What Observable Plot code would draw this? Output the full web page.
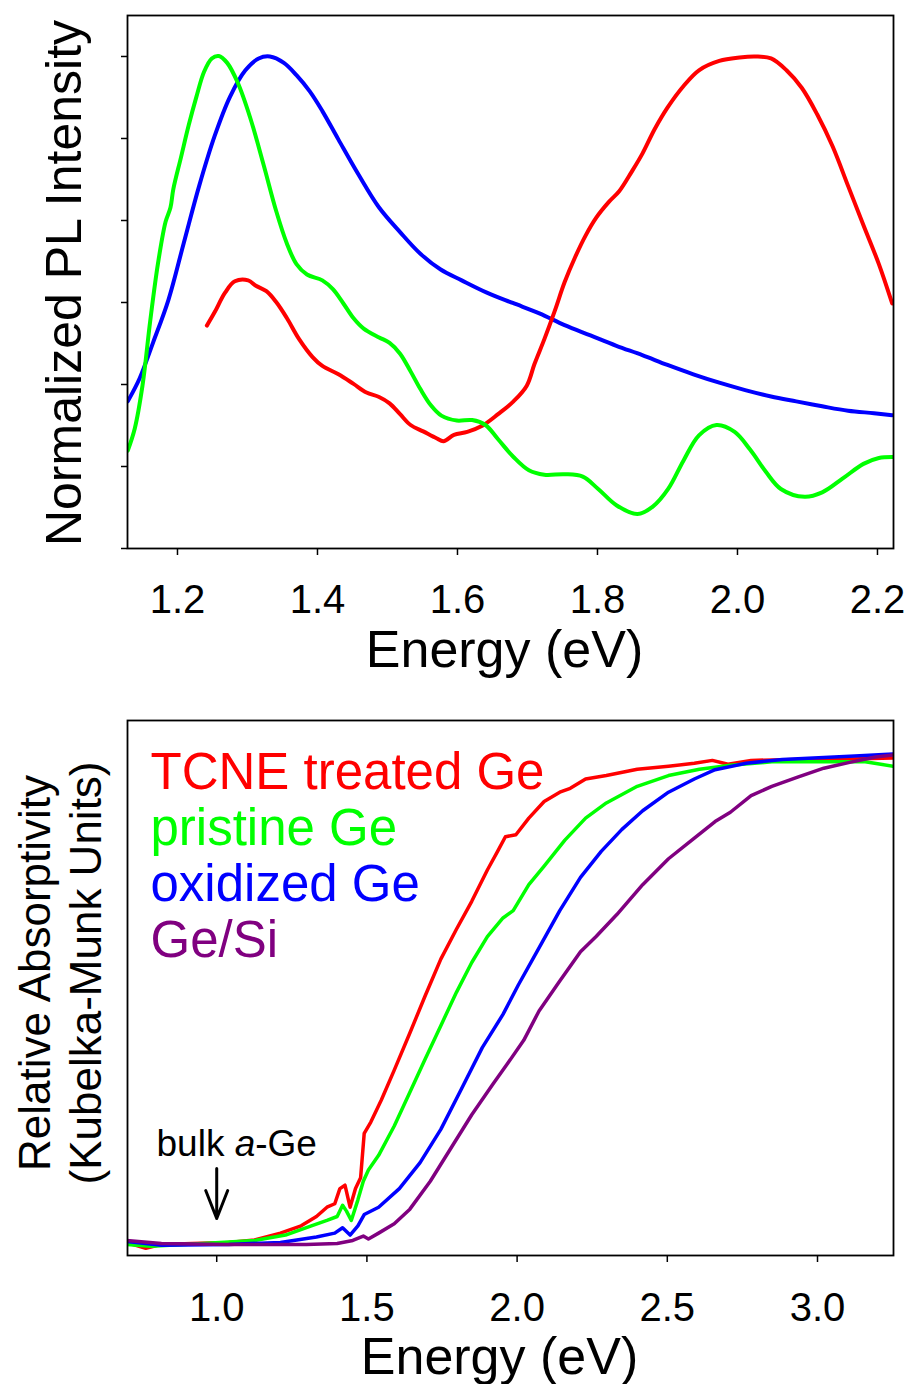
<!DOCTYPE html>
<html>
<head>
<meta charset="utf-8">
<script src="https://cdn.jsdelivr.net/npm/d3@7"></script>
<script src="https://cdn.jsdelivr.net/npm/@observablehq/plot@0.6"></script>
<style>
  html, body { margin: 0; padding: 0; background: #fff; }
  #chart { width: 910px; }
  #chart svg { display: block; }
</style>
</head>
<body>
<div id="chart"></div>
<script>
// ---------- Top panel: normalized PL ----------
const plNames = ["TCNE treated Ge", "pristine Ge", "oxidized Ge"];
const plColors = ["#ff0000", "#00ff00", "#0000ff"];
const plXTicks = [1.2, 1.4, 1.6, 1.8, 2.0, 2.2];
const plYTicks = [0, 1/6, 2/6, 3/6, 4/6, 5/6, 1];

const plBlueE = [1.129,1.146,1.165,1.187,1.209,1.231,1.253,1.275,1.297,1.316,1.332,1.352,1.370,1.389,1.407,1.430,1.459,1.488,1.518,1.547,1.576,1.606,1.642,1.679,1.717,1.753,1.790,1.827,1.864,1.900,1.937,1.974,2.011,2.048,2.084,2.121,2.158,2.195,2.221];
const plBlueI = [0.299,0.346,0.418,0.505,0.621,0.737,0.838,0.918,0.972,0.996,1.000,0.987,0.962,0.929,0.889,0.831,0.759,0.693,0.643,0.599,0.567,0.545,0.520,0.499,0.478,0.454,0.433,0.412,0.393,0.373,0.354,0.337,0.322,0.309,0.299,0.289,0.280,0.275,0.271];

const plGreenE = [1.129,1.139,1.150,1.161,1.172,1.183,1.190,1.194,1.205,1.216,1.227,1.238,1.249,1.259,1.271,1.286,1.304,1.323,1.341,1.356,1.370,1.385,1.407,1.422,1.437,1.451,1.466,1.488,1.503,1.518,1.533,1.547,1.562,1.577,1.599,1.621,1.640,1.658,1.680,1.702,1.724,1.753,1.779,1.801,1.827,1.857,1.879,1.901,1.923,1.945,1.970,1.996,2.018,2.040,2.062,2.096,2.121,2.151,2.180,2.202,2.221];
const plGreenI = [0.199,0.244,0.331,0.462,0.578,0.664,0.693,0.730,0.795,0.860,0.918,0.969,0.996,1.001,0.987,0.947,0.875,0.780,0.686,0.621,0.578,0.557,0.545,0.527,0.498,0.469,0.447,0.429,0.418,0.396,0.360,0.324,0.291,0.270,0.260,0.261,0.251,0.222,0.186,0.159,0.150,0.151,0.146,0.121,0.088,0.070,0.085,0.121,0.179,0.230,0.251,0.237,0.201,0.157,0.121,0.105,0.114,0.143,0.172,0.184,0.186];

const plRedE = [1.242,1.253,1.268,1.282,1.301,1.312,1.327,1.341,1.356,1.374,1.393,1.407,1.430,1.451,1.470,1.488,1.503,1.518,1.533,1.551,1.570,1.580,1.595,1.614,1.636,1.658,1.680,1.699,1.710,1.724,1.739,1.753,1.768,1.783,1.798,1.816,1.831,1.849,1.864,1.882,1.900,1.923,1.945,1.974,2.003,2.026,2.048,2.070,2.092,2.114,2.136,2.158,2.180,2.202,2.221];
const plRedI = [0.453,0.480,0.520,0.543,0.545,0.534,0.523,0.501,0.469,0.425,0.389,0.371,0.354,0.335,0.317,0.308,0.295,0.273,0.251,0.238,0.224,0.218,0.231,0.237,0.250,0.273,0.299,0.331,0.375,0.425,0.483,0.541,0.592,0.636,0.672,0.704,0.726,0.766,0.802,0.853,0.896,0.940,0.972,0.991,0.998,1.000,0.996,0.972,0.936,0.882,0.817,0.737,0.657,0.578,0.498];

// ---------- Bottom panel: absorptivity ----------
const absNames = ["TCNE treated Ge", "pristine Ge", "oxidized Ge", "Ge/Si"];
const absColors = ["#ff0000", "#00ff00", "#0000ff", "#800080"];
const absXTicks = [1.0, 1.5, 2.0, 2.5, 3.0];

const absRedE = [0.699,0.764,0.816,0.919,1.040,1.126,1.212,1.281,1.332,1.367,1.393,1.410,1.427,1.444,1.462,1.479,1.491,1.513,1.548,1.591,1.643,1.694,1.746,1.798,1.849,1.901,1.935,1.961,1.996,2.039,2.090,2.142,2.177,2.228,2.297,2.400,2.504,2.590,2.650,2.702,2.779,2.934,3.107,3.253];
const absRedA = [0.004,-0.008,0.000,0.002,0.004,0.009,0.023,0.038,0.057,0.076,0.083,0.114,0.121,0.076,0.114,0.136,0.227,0.250,0.295,0.356,0.432,0.508,0.583,0.644,0.701,0.765,0.803,0.833,0.837,0.871,0.905,0.924,0.932,0.951,0.958,0.971,0.977,0.983,0.989,0.981,0.989,0.991,0.992,0.994];

const absGreenE = [0.699,0.781,0.953,1.126,1.229,1.315,1.367,1.401,1.419,1.432,1.448,1.470,1.488,1.505,1.539,1.591,1.643,1.694,1.746,1.798,1.849,1.901,1.953,1.987,2.039,2.090,2.159,2.228,2.297,2.400,2.504,2.607,2.710,2.848,3.021,3.159,3.253];
const absGreenA = [0.000,-0.004,0.002,0.008,0.019,0.038,0.049,0.057,0.080,0.068,0.049,0.091,0.129,0.152,0.182,0.242,0.311,0.379,0.447,0.515,0.576,0.629,0.667,0.682,0.735,0.773,0.826,0.871,0.902,0.936,0.958,0.971,0.979,0.986,0.986,0.986,0.977];

const absBlueE = [0.699,0.816,1.040,1.212,1.332,1.393,1.419,1.444,1.470,1.491,1.539,1.608,1.677,1.746,1.815,1.884,1.953,2.004,2.073,2.142,2.211,2.280,2.349,2.418,2.504,2.590,2.659,2.762,2.883,3.021,3.124,3.253];
const absBlueA = [0.006,-0.002,0.000,0.004,0.015,0.023,0.034,0.019,0.038,0.061,0.076,0.114,0.167,0.235,0.318,0.402,0.470,0.530,0.606,0.682,0.750,0.803,0.848,0.886,0.924,0.951,0.970,0.983,0.991,0.995,0.998,1.002];

const absPurpleE = [0.699,0.816,1.040,1.298,1.401,1.453,1.488,1.505,1.539,1.591,1.643,1.711,1.780,1.849,1.918,1.970,2.022,2.073,2.142,2.211,2.263,2.332,2.418,2.504,2.590,2.659,2.710,2.779,2.848,2.934,3.021,3.107,3.193,3.253];
const absPurpleA = [0.008,0.002,0.000,0.000,0.002,0.008,0.017,0.011,0.023,0.042,0.072,0.129,0.197,0.265,0.326,0.371,0.417,0.477,0.538,0.598,0.629,0.674,0.735,0.788,0.830,0.864,0.883,0.917,0.936,0.955,0.973,0.985,0.996,1.000];

const annotation = [{label: "bulk a-Ge", energy: 1.0, yStart: 0.155}];

// ---------- build tables ----------
const series = (name, xs, ys) => xs.map((x, i) => ({name, x, y: ys[i]}));
const plData = [
  ...series("oxidized Ge", plBlueE, plBlueI),
  ...series("TCNE treated Ge", plRedE, plRedI),
  ...series("pristine Ge", plGreenE, plGreenI)
];
const absData = [
  ...series("TCNE treated Ge", absRedE, absRedA),
  ...series("pristine Ge", absGreenE, absGreenA),
  ...series("oxidized Ge", absBlueE, absBlueA),
  ...series("Ge/Si", absPurpleE, absPurpleA)
];

const FONT = "'Liberation Sans', Arial, Helvetica, sans-serif";
const baseStyle = {background: "white", fontFamily: FONT, color: "black", overflow: "visible"};

// narrow-headed arrow shape for the annotation (drawn by Plot.vector)
const narrowArrow = {
  draw(context, l) {
    const w = 11, h = 28;
    context.moveTo(0, 0);
    context.lineTo(0, -l);
    context.moveTo(-w, h - l);
    context.lineTo(0, -l);
    context.lineTo(w, h - l);
  }
};

const topPlot = Plot.plot({
  width: 910, height: 690,
  marginTop: 15, marginBottom: 142, marginLeft: 127, marginRight: 17,
  style: baseStyle,
  x: {domain: [1.1286, 2.2229]},
  y: {domain: [0, 1.0833]},
  color: {domain: plNames, range: plColors},
  marks: [
    Plot.axisX({ticks: plXTicks, tickFormat: d3.format(".1f"), tickSize: 7, tickPadding: 29, fontSize: 40, strokeWidth: 1.5, label: null}),
    Plot.axisY({ticks: plYTicks, tickFormat: () => "", tickSize: 6, strokeWidth: 1.5, label: null}),
    Plot.line(plData, {x: "x", y: "y", z: "name", stroke: "name", strokeWidth: 4, curve: "catmull-rom", clip: true}),
    Plot.frame({stroke: "black", strokeWidth: 1.8}),
    Plot.text(["Energy (eV)"], {frameAnchor: "bottom", textAnchor: "middle", dx: -6, dy: 118, lineAnchor: "bottom", fontSize: 52}),
    Plot.text(["Normalized PL Intensity"], {frameAnchor: "left", textAnchor: "middle", rotate: -90, dx: -47, dy: 1, lineAnchor: "bottom", fontSize: 50})
  ]
});

const bottomPlot = Plot.plot({
  width: 910, height: 694,
  marginTop: 30, marginBottom: 129, marginLeft: 127, marginRight: 17,
  style: baseStyle,
  x: {domain: [0.703, 3.253]},
  y: {domain: [-0.0227, 1.0705], axis: null},
  color: {domain: absNames, range: absColors},
  marks: [
    Plot.axisX({ticks: absXTicks, tickFormat: d3.format(".1f"), tickSize: 7, tickPadding: 30, fontSize: 40, strokeWidth: 1.5, label: null}),
    Plot.line(absData, {x: "x", y: "y", z: "name", stroke: "name", strokeWidth: 3.5, clip: true}),
    Plot.frame({stroke: "black", strokeWidth: 1.8}),
    ...absNames.map((name, i) => Plot.text([name], {frameAnchor: "top-left", dx: 23, dy: 68 + i * 56, textAnchor: "start", lineAnchor: "bottom", fontSize: 51, fill: absColors[i]})),
    Plot.vector(annotation, {x: "energy", y: "yStart", length: 50, rotate: 180, anchor: "start", shape: narrowArrow, stroke: "black", strokeWidth: 3}),
    Plot.text(annotation, {x: "energy", y: "yStart", text: "label", textAnchor: "middle", dx: 20, dy: -13, lineAnchor: "bottom", fontSize: 37}),
    Plot.text(["Energy (eV)"], {frameAnchor: "bottom", textAnchor: "middle", dx: -11, dy: 118, lineAnchor: "bottom", fontSize: 52}),
    Plot.text(["Relative Absorptivity\n(Kubelka-Munk Units)"], {frameAnchor: "left", textAnchor: "middle", rotate: -90, dx: -27, dy: -15, lineAnchor: "bottom", lineHeight: 1.14, fontSize: 44})
  ]
});

// italic "a" in the annotation
bottomPlot.querySelectorAll("text").forEach(t => {
  if (t.textContent === "bulk a-Ge") {
    t.textContent = "";
    const ns = "http://www.w3.org/2000/svg";
    const a = document.createElementNS(ns, "tspan"); a.textContent = "bulk ";
    const b = document.createElementNS(ns, "tspan"); b.textContent = "a"; b.setAttribute("font-style", "italic");
    const c = document.createElementNS(ns, "tspan"); c.textContent = "-Ge";
    t.append(a, b, c);
  }
});

document.getElementById("chart").append(topPlot, bottomPlot);
</script>
</body>
</html>
